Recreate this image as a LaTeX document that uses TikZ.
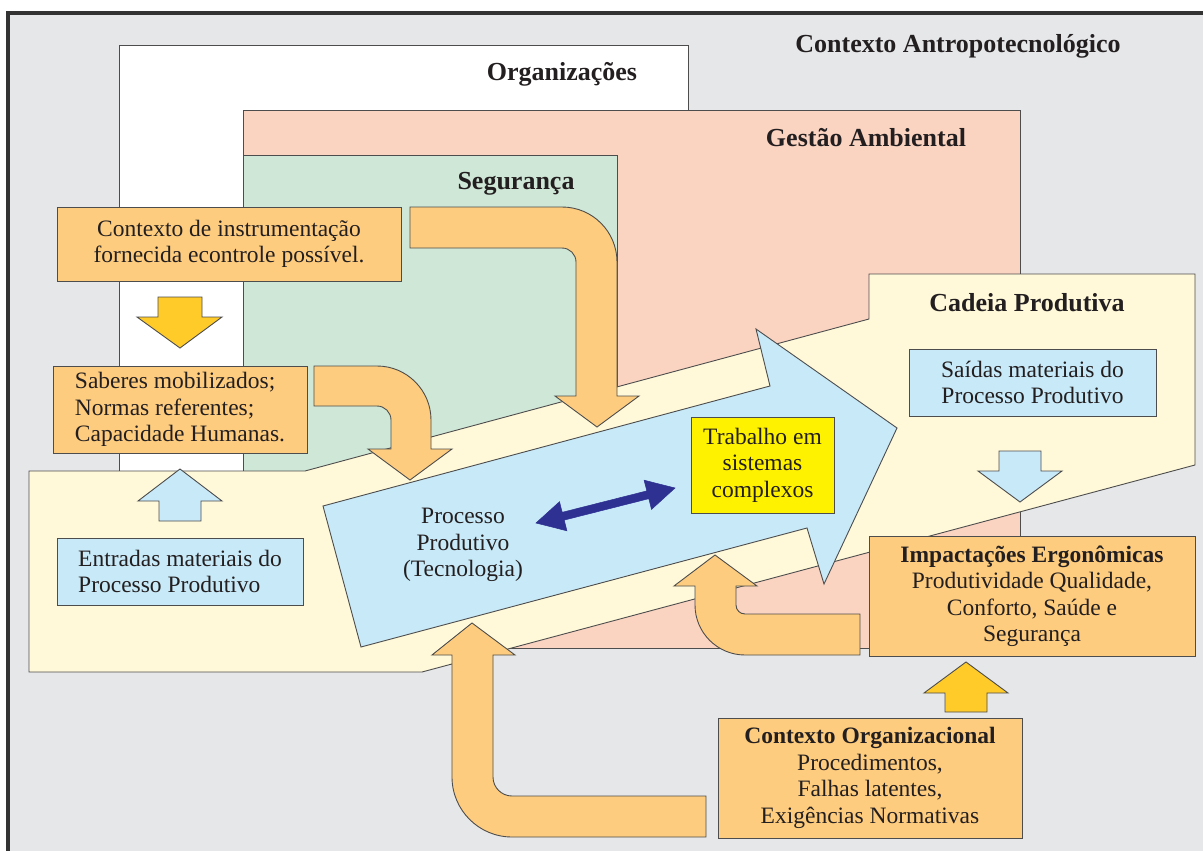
\documentclass[tikz,border=0pt]{standalone}
\usepackage{fontspec}
\setmainfont{Liberation Serif}
\definecolor{bggray}{HTML}{E6E7E9}
\definecolor{framec}{HTML}{333333}
\definecolor{edgec}{HTML}{4D4D4D}
\definecolor{pinkc}{HTML}{FBD3C1}
\definecolor{greenc}{HTML}{CFE7D6}
\definecolor{yelc}{HTML}{FFF9D9}
\definecolor{orangec}{HTML}{FECC7E}
\definecolor{bluec}{HTML}{C8E9F8}
\definecolor{yboxc}{HTML}{FFF200}
\definecolor{goldc}{HTML}{FFCB29}
\definecolor{navyc}{HTML}{2E3192}
\definecolor{txtc}{HTML}{231F20}
\begin{document}
\begin{tikzpicture}[x=1pt,y=-1pt,
  edge/.style={draw=edgec, line width=0.9pt, line join=miter},
  bodytext/.style={font=\fontsize{23.5}{26.5}\selectfont, text=txtc},
  titletext/.style={font=\fontsize{26}{30}\selectfont\bfseries, text=txtc, inner sep=0},
  textbox/.style={edge, bodytext, inner sep=0, align=center},
  obox/.style={textbox, fill=orangec},
  bbox/.style={textbox, fill=bluec},
  obarrow/.style={edge, fill=orangec},
  gdarrow/.style={edge, fill=goldc},
  lbarrow/.style={edge, fill=bluec}]
\useasboundingbox (0,0) rectangle (1203,851);
\fill[white] (0,0) rectangle (1203,851);
\fill[bggray] (9,14) rectangle (1203,851);
\draw[framec, line width=4pt] (8,851) -- (8,13) -- (1203,13);

% context boxes
\draw[edge, fill=white] (119,45) rectangle (688,480);
\draw[edge, fill=pinkc] (243,110) rectangle (1020,648);
\draw[edge, fill=greenc] (243,155) rectangle (617,480);
\draw[edge, fill=yelc] (29,471) -- (305,471) -- (869,319) -- (869,274) -- (1195,274) -- (1195,465) -- (422,672) -- (29,672) -- cycle;

\node[titletext] (tctx) at (958,46) {Contexto Antropotecnológico};
\node[titletext] (torg) at (562,74) {Organizações};
\node[titletext] (tgest) at (866,138) {Gestão Ambiental};
\node[titletext] (tseg) at (516,184) {Segurança};
\node[titletext] (tcad) at (1027,303) {Cadeia Produtiva};

% big process arrow
\draw[edge, fill=bluec] (323,506) -- (770,386) -- (756,329) -- (897,428) -- (824,584) -- (807,528) -- (361,647) -- cycle;
\node[bodytext, align=center, inner sep=0] (proc) at (463,545) {Processo\\Produtivo\\(Tecnologia)};

% double arrow
\fill[navyc, draw=navyc, line width=0.5pt] (536,523) -- (566.9,530.8) -- (564.2,520.1) -- (648.8,498.7) -- (651.5,509.4) -- (675,488) -- (644.1,480.2) -- (646.8,490.9) -- (562.2,512.3) -- (559.5,501.7) -- cycle;

\node[textbox, fill=yboxc, minimum width=143, minimum height=96] (trab) at (762.5,465) {Trabalho em\\sistemas\\complexos};

% text boxes
\node[obox, minimum width=344, minimum height=74] (ctxi) at (229,244) {Contexto de instrumentação\\fornecida econtrole possível.};
\node[obox, minimum width=254, minimum height=87, align=left] (sab) at (180,409.5) {Saberes mobilizados;\\Normas referentes;\\Capacidade Humanas.};
\node[bbox, minimum width=246, minimum height=67, align=left] (ent) at (180,571.5) {Entradas materiais do\\Processo Produtivo};
\node[bbox, minimum width=247, minimum height=67] (sai) at (1032.5,382.5) {Saídas materiais do\\Processo Produtivo};
\node[obox, minimum width=326, minimum height=120] (imp) at (1032,596) {\textbf{Impactações Ergonômicas}\\Produtividade Qualidade,\\Conforto, Saúde e\\Segurança};
\node[obox, minimum width=304, minimum height=120] (corg) at (870,778) {\textbf{Contexto Organizacional}\\Procedimentos,\\Falhas latentes,\\Exigências Normativas};

% straight block arrows
\draw[gdarrow] (158,297) -- (202,297) -- (202,317) -- (222,317) -- (180,348) -- (137,317) -- (158,317) -- cycle;
\draw[lbarrow] (159,521) -- (201,521) -- (201,501) -- (222,501) -- (180,469) -- (138,501) -- (159,501) -- cycle;
\draw[lbarrow] (999,451) -- (1041,451) -- (1041,471) -- (1062,471) -- (1020,502) -- (978,471) -- (999,471) -- cycle;
\draw[gdarrow] (945,712) -- (987,712) -- (987,693) -- (1008,693) -- (966,662) -- (924,693) -- (945,693) -- cycle;

% curved block arrows
\draw[obarrow] (410,207) -- (562,207) .. controls (592.4,207) and (617,231.6) .. (617,262) -- (617,396) -- (639,396) -- (597,427) -- (555,396) -- (576,396) -- (576,262) .. controls (576,254.3) and (569.7,248) .. (562,248) -- (410,248) -- cycle;
\draw[obarrow] (314,366) -- (377,366) .. controls (406.8,366) and (431,390.2) .. (431,420) -- (431,449) -- (452,449) -- (410,480) -- (368,449) -- (391,449) -- (391,420) .. controls (391,412.3) and (384.7,406) .. (377,406) -- (314,406) -- cycle;
\draw[obarrow] (472,623) -- (515,655) -- (493,655) -- (493,777) .. controls (493,787.5) and (501.5,796) .. (512,796) -- (706,796) -- (706,837) -- (512,837) .. controls (478.9,837) and (452,810.1) .. (452,777) -- (452,655) -- (432,655) -- cycle;
\draw[obarrow] (715,555) -- (757,586) -- (736,586) -- (736,605) .. controls (736,610) and (740,614) .. (745,614) -- (860,614) -- (860,655) -- (745,655) .. controls (717.4,655) and (695,632.6) .. (695,605) -- (695,586) -- (674,586) -- cycle;
\end{tikzpicture}
\end{document}
